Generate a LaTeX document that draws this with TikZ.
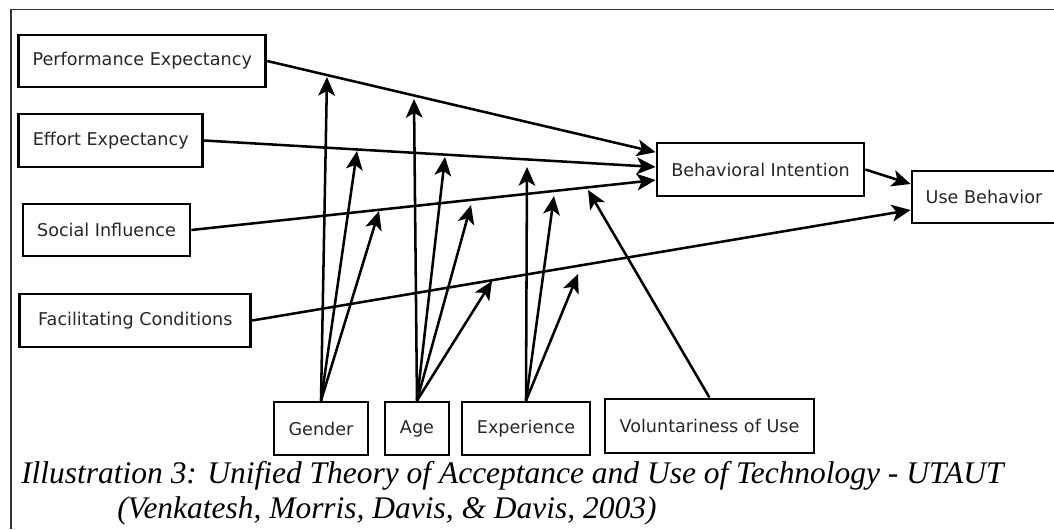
\documentclass[tikz,border=0pt]{standalone}
\usepackage{fontspec}
\setmainfont{DejaVu Sans}
\newfontfamily\capfont{Liberation Serif}
\usetikzlibrary{arrows.meta}
\begin{document}
\begin{tikzpicture}[x=0.75pt,y=-0.75pt,
  box/.style={draw, line width=2.1pt, minimum height=52*0.75pt, inner sep=0pt,
    font=\fontsize{13.2}{15}\selectfont, text=black!85},
  conn/.style={line width=1.9pt, -{Stealth[length=14pt,width=12.5pt,inset=3.5pt]}},
  frame/.style={line width=0.9pt, draw=black!80},
  captext/.style={anchor=base west, inner sep=0pt, font=\capfont\itshape\fontsize{23.6}{28}\selectfont}]
\useasboundingbox (0,0) rectangle (1054,529);
\draw[frame] (11,529) -- (11,9.5) -- (1054,9.5);
% main constructs
\node[box, minimum width=247*0.75pt] (pe) at (142.3,61) {Performance Expectancy};
\node[box, minimum width=184*0.75pt, minimum height=53*0.75pt] (ee) at (110.8,140.5) {Effort Expectancy};
\node[box, minimum width=167*0.75pt] (si) at (106.5,230) {Social Influence};
\node[box, minimum width=231*0.75pt, minimum height=53*0.75pt] (fc) at (135.3,320.5) {Facilitating Conditions};
\node[box, minimum width=207*0.75pt, minimum height=53*0.75pt] (bi) at (760.5,169.5) {Behavioral Intention};
\node[box, minimum width=144*0.75pt] (ub) at (984,197) {Use Behavior};
% moderators
\node[box, minimum width=94*0.75pt, minimum height=53*0.75pt] (gender) at (321,428.5) {Gender};
\node[box, minimum width=64*0.75pt, minimum height=53*0.75pt] (age) at (417,428.5) {Age};
\node[box, minimum width=128*0.75pt, minimum height=53*0.75pt] (exp) at (526,428.5) {Experience};
\node[box, minimum width=209*0.75pt, minimum height=54*0.75pt] (vol) at (709.5,426) {Voluntariness of Use};
% main paths
\draw[conn] (pe.east) -- ([yshift=13pt]bi.west);
\draw[conn] (ee.east) -- ([yshift=1.9pt]bi.west);
\draw[conn] (si.east) -- ([yshift=-7.9pt]bi.west);
\draw[conn] (bi.east) -- ([yshift=9.75pt]ub.west);
\draw[conn] (fc.east) -- ([yshift=-9.75pt]ub.west);
% moderator tips
\coordinate (g1) at (327,77);
\coordinate (g2) at (357,151);
\coordinate (g3) at (379,211);
\coordinate (a1) at (414,99);
\coordinate (a2) at (445,157);
\coordinate (a3) at (471,205);
\coordinate (a4) at (492,281);
\coordinate (e1) at (527,167);
\coordinate (e2) at (554,196);
\coordinate (e3) at (578,274);
\coordinate (v1) at (588,190);
\foreach \t in {g1,g2,g3} \draw[conn] (gender.north) -- (\t);
\foreach \t in {a1,a2,a3,a4} \draw[conn] (age.north) -- (\t);
\foreach \t in {e1,e2,e3} \draw[conn] (exp.north) -- (\t);
\draw[conn] (vol.north) -- (v1);
% caption
\node[captext] (cap1) at (21,483) {Illustration 3: Unified Theory of Acceptance and Use of Technology - UTAUT};
\node[captext] (cap2) at (117,518) {(Venkatesh, Morris, Davis, \& Davis, 2003)};
\end{tikzpicture}
\end{document}
